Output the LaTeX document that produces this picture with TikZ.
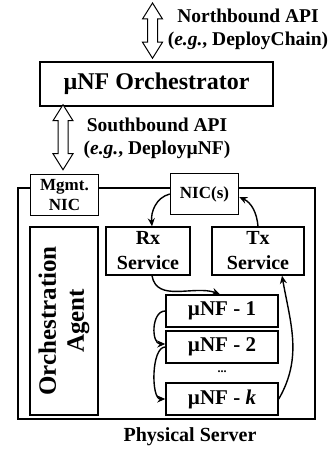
\documentclass[tikz,border=0pt]{standalone}
\usepackage{fontspec}
\setmainfont{Liberation Serif}
\usepackage{tikz}
\usetikzlibrary{arrows.meta,positioning,calc}

% hollow two-headed API arrow between a top and a bottom coordinate
\newcommand{\apiarrow}[2]{%
  \draw[line width=1pt, fill=white, line join=miter]
    (#1) -- ++(-10,-16) -- ++(5,0) -- ($(#2)+(-5,16)$) -- ++(-5,0) -- (#2)
    -- ++(10,16) -- ++(-5,0) -- ($(#1)+(5,-16)$) -- ++(5,0) -- cycle;}

\begin{document}
\begin{tikzpicture}[x=1pt, y=1pt,
  box/.style={draw, fill=white, line width=1.5pt, inner sep=1pt, align=center, font=\fontsize{20}{25}\selectfont\bfseries},
  svcbox/.style={box, minimum height=48pt},
  nfbox/.style={box, minimum width=112pt, minimum height=32pt, font=\fontsize{21}{24}\selectfont\bfseries},
  nicbox/.style={box, minimum width=68pt, minimum height=41pt, font=\fontsize{17}{20}\selectfont\bfseries},
  lbl/.style={align=center, font=\fontsize{19.5}{23}\selectfont\bfseries},
  arr/.style={-{Stealth[length=8pt,width=7pt]}, line width=1.4pt}
]
  \useasboundingbox (0,0) rectangle (333,449);

  \node[box, minimum width=233pt, minimum height=44pt, font=\fontsize{24}{28}\selectfont\bfseries] (orch) at (156.5,365) {µNF Orchestrator};
  \node[lbl] (northlbl) at (248,420) {Northbound API\\(\textit{e.g.}, DeployChain)};
  \node[lbl] (southlbl) at (157,311) {Southbound API\\(\textit{e.g.}, DeployµNF)};

  \node[draw, line width=2pt, minimum width=297pt, minimum height=231pt] (server) at (166.5,145) {};
  \node[font=\fontsize{20}{24}\selectfont\bfseries] (serverlbl) at (190,12) {Physical Server};
  \node[nicbox] (mgmt) at (64.5,254) {Mgmt.\\NIC};
  \node[nicbox] (nic) at (204.5,255) {NIC(s)};
  \node[box, rotate=90, minimum width=188pt, minimum height=68pt, font=\fontsize{25}{28}\selectfont\bfseries] (agent) at (64,128) {Orchestration\\Agent};
  \node[svcbox, minimum width=84pt] (rx) at (148,198) {Rx\\Service};
  \node[svcbox, minimum width=92pt] (tx) at (258,198) {Tx\\Service};
  \node[nfbox] (nf1) at (222,138) {µNF - 1};
  \node[nfbox] (nf2) at (222,102) {µNF - 2};
  \node[font=\fontsize{12}{12}\selectfont\bfseries] (dots) at (222,77) {...};
  \node[nfbox] (nfk) at (222,50) {µNF - \textit{k}};

  % API arrows
  \coordinate (nbtop) at (152.5,446);
  \coordinate (nbbot) at ([yshift=3pt]orch.north -| nbtop);
  \apiarrow{nbtop}{nbbot}
  \coordinate (sbtop) at ([yshift=2pt]orch.south -| 63,0);
  \coordinate (sbbot) at ([yshift=4pt]mgmt.north -| sbtop);
  \apiarrow{sbtop}{sbbot}

  \draw[arr] (nic.west) to[out=195, in=95] ([xshift=4pt]rx.north);
  \draw[arr] (tx.north) to[out=95, in=-25] ([yshift=-3pt]nic.east);
  \draw[arr] ([xshift=4pt]rx.south) to[out=-80, in=160] ([xshift=-2pt]nf1.north);
  \draw[arr] (nf1.west) to[out=180, in=180, looseness=1.1] ([yshift=3pt]nf2.west);
  \draw[arr] (nf2.west) to[out=180, in=180, looseness=0.7] (nfk.west);
  \draw[arr] (nfk.east) to[out=60, in=-80] ([xshift=24pt]tx.south);
\end{tikzpicture}
\end{document}
